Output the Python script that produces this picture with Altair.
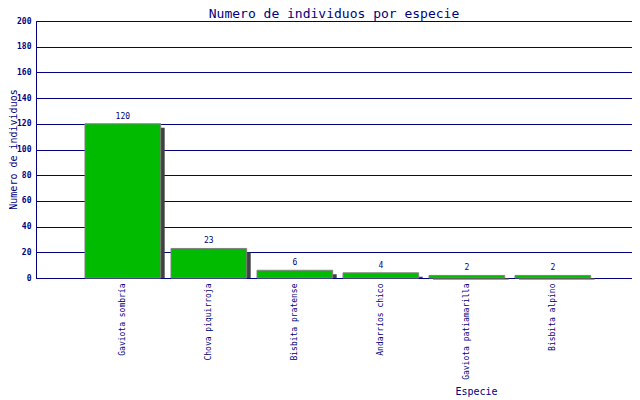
import altair as alt
import pandas as pd

especies = ["Gaviota sombría", "Chova piquirroja", "Bisbita pratense",
            "Andarríos chico", "Gaviota patiamarilla", "Bisbita alpino"]
individuos = [120, 23, 6, 4, 2, 2]
y_ticks = [0, 20, 40, 60, 80, 100, 120, 140, 160, 180, 200]

df = pd.DataFrame({"especie": especies, "n": individuos})

NAVY = "#000080"
MONO = "DejaVu Sans Mono"

x_enc = alt.X("especie:N", sort=None,
              scale=alt.Scale(paddingInner=0.12, paddingOuter=0.525, align=0.5426),
              axis=alt.Axis(title="Especie", labelAngle=-90, labelFont=MONO,
                            labelFontSize=8, labelColor=NAVY, labelPadding=5,
                            ticks=False, domainColor=NAVY, grid=False,
                            titleFont=MONO, titleFontSize=10, titleFontWeight="normal",
                            titleColor=NAVY, titleX=440, titleY=116,
                            titleAlign="center", titleBaseline="alphabetic"))
y_enc = alt.Y("n:Q", scale=alt.Scale(domain=[0, 200], nice=False),
              axis=alt.Axis(title="Numero de individuos", values=y_ticks,
                            labelFont=MONO, labelFontSize=8, labelFontWeight="bold",
                            labelColor=NAVY, labelPadding=5, ticks=False,
                            domainColor=NAVY, grid=True, gridColor=NAVY,
                            gridOpacity=1, gridWidth=1,
                            titleFont=MONO, titleFontSize=10, titleFontWeight="normal",
                            titleColor=NAVY, titleX=-20, titleY=128,
                            titleAngle=270,
                            titleAlign="center", titleBaseline="alphabetic"))

base = alt.Chart(df)

shadow = base.mark_bar(color="#404040", xOffset=4, x2Offset=4, yOffset=4, y2Offset=0).encode(
    x=x_enc, y=y_enc, y2=alt.datum(0)
)
bars = base.mark_bar(color="#00BB00", stroke="#808080", strokeWidth=1).encode(
    x=x_enc, y=y_enc, y2=alt.datum(0)
)
labels = base.mark_text(font=MONO, fontSize=8, color=NAVY, dy=-5,
                        baseline="alphabetic").encode(
    x=x_enc, y=y_enc, text="n:Q"
)

chart = alt.layer(shadow, bars, labels).properties(
    width=596, height=257,
    title=alt.TitleParams("Numero de individuos por especie", font=MONO,
                          fontSize=13, fontWeight="normal", color=NAVY,
                          anchor="middle", frame="group", offset=0, dy=3.5),
    autosize=alt.AutoSizeParams(type="none"),
    padding={"left": 28, "top": 13, "right": 0, "bottom": 120},
).configure_view(stroke=NAVY, strokeWidth=1)

chart.save("out.html", embed_options={"renderer": "svg", "actions": False})
